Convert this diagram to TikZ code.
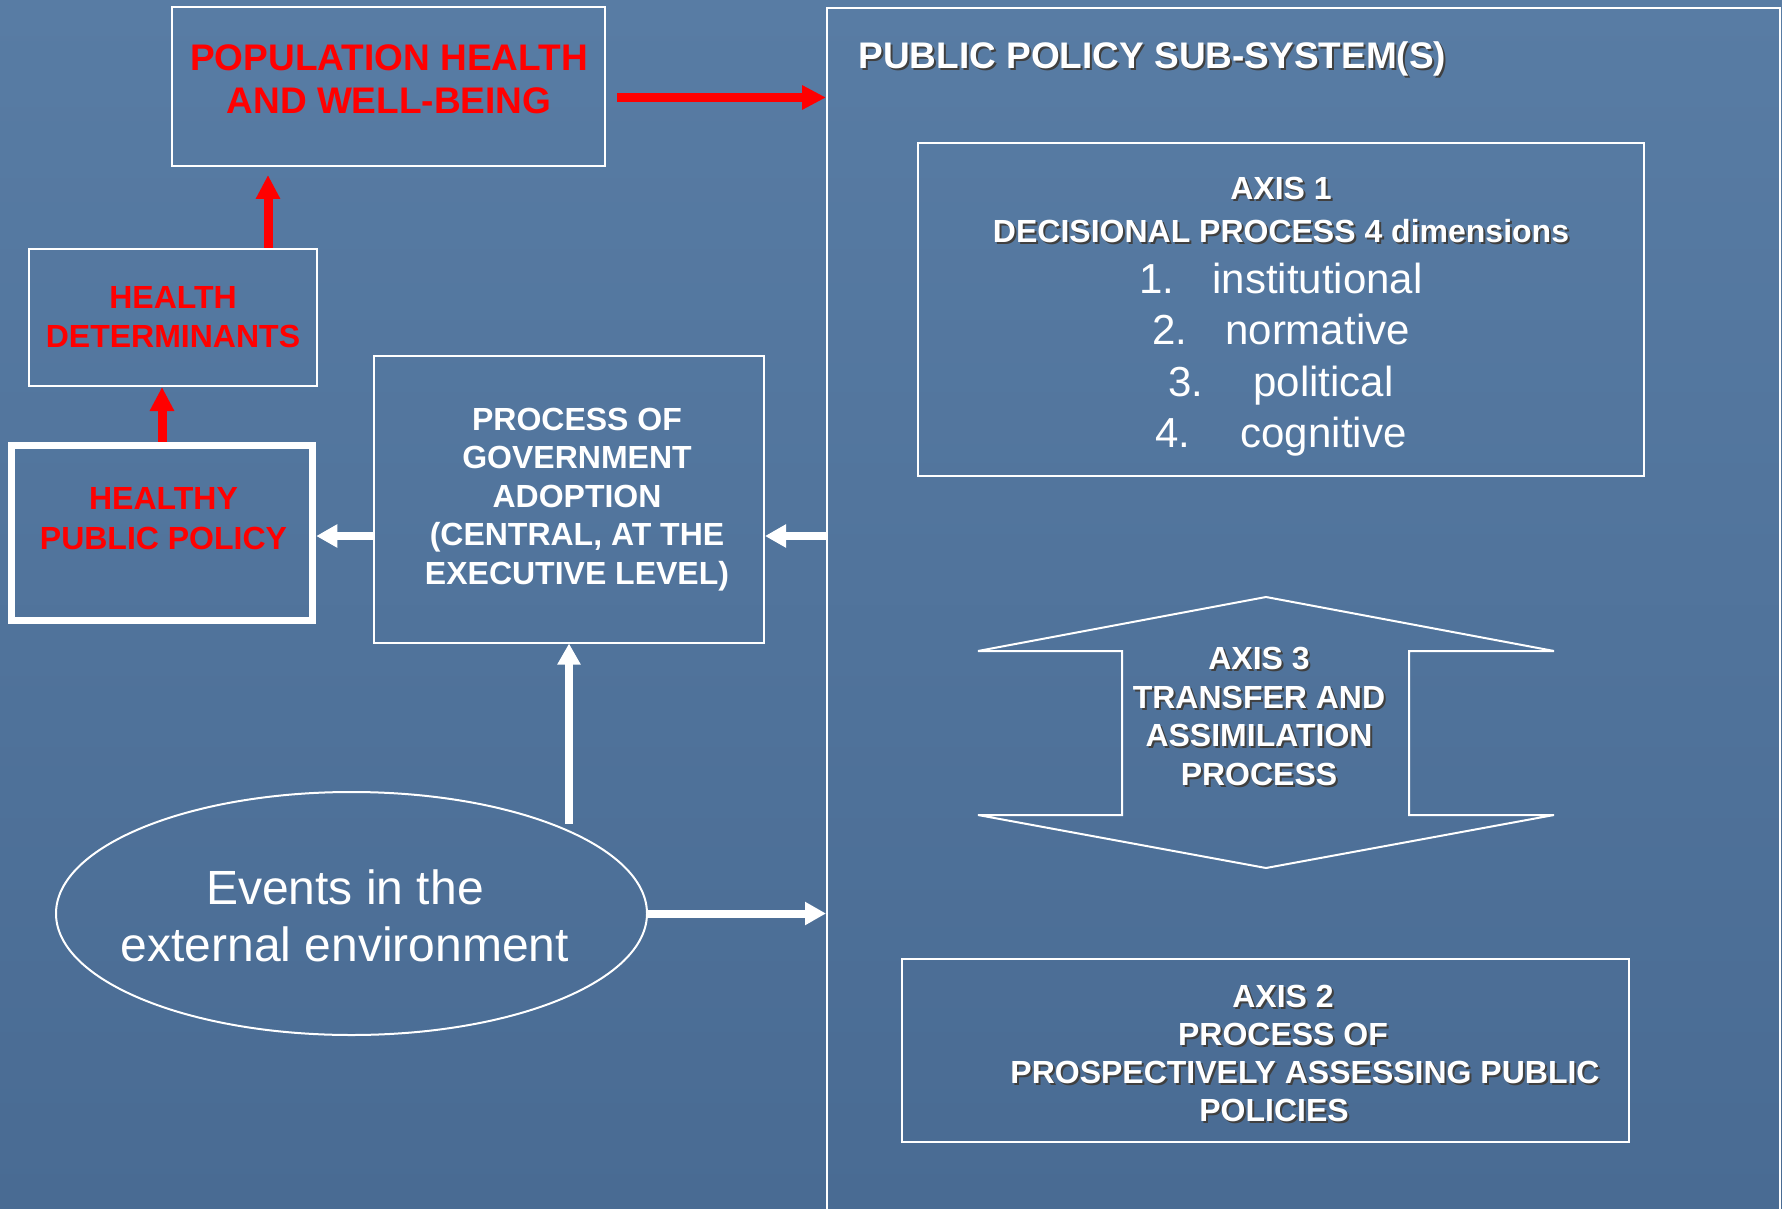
\documentclass[tikz,border=0pt]{standalone}
\usepackage{fontspec}
\setmainfont{Liberation Sans}
\usetikzlibrary{calc,shapes.geometric,arrows.meta}
\definecolor{bgtop}{RGB}{88,124,164}
\definecolor{bgbot}{RGB}{73,107,147}
\tikzset{
    box/.style={draw=white,line width=1pt,inner sep=0pt},
    redtxt/.style={text=red,align=center,inner sep=0pt,font=\bfseries\fontsize{16}{19.5}\selectfont},
    whitetxt/.style={text=white,align=center,inner sep=0pt,font=\bfseries\fontsize{16}{19.3}\selectfont},
    listtxt/.style={text=white,inner sep=0pt,font=\fontsize{21}{25}\selectfont},
    redarrow/.style={draw=red,line width=4.5pt,-{Triangle[length=12pt,width=11.5pt]}},
    whitearrow/.style={draw=white,line width=4pt,-{Triangle[length=10.5pt,width=11pt]}},
  }
% texte blanc avec ombre portee
\newcommand{\textombre}[4]{%
    \node[#1,text=black!75,xshift=1pt,yshift=-1pt] at (#3) {#4};
    \node[#1] (#2) at (#3) {#4};
  }
\begin{document}
\begin{tikzpicture}[x=0.5pt,y=-0.5pt]
			          %FOND
			          \useasboundingbox (0,0) rectangle (1782,1209);
			          \shade[top color=bgtop,bottom color=bgbot] (0,0) rectangle (1782,1209);
				   %SOUS-SYSTEME
				  \node[box,minimum width=476.5pt,minimum height=612pt,anchor=north west] (subsys) at (826,7) {};
				  \textombre{whitetxt,font=\bfseries\fontsize{18.5}{21.5}\selectfont,anchor=west}{title}{858,58.5}{PUBLIC POLICY SUB-SYSTEM(S)}
				  %AXE 1
				  \node[box,minimum width=363pt,minimum height=166.5pt] (ax1) at (1281,309.5) {};
				  \textombre{whitetxt,font=\bfseries\fontsize{16}{21.5}\selectfont}{ax1head}{1281,210}{AXIS 1\\DECISIONAL PROCESS 4 dimensions}
				  \foreach \i/\w/\g [count=\k from 0] in {1/institutional/19pt,2/normative/19pt,3/political/25pt,4/cognitive/25pt}
				    \node[listtxt,anchor=base] (dim\i) at (1281,{293+51.5*\k}) {\i.\hspace{\g}\w};
				  %AXE 3
				  \coordinate (wl) at (978,651);
				  \coordinate (top) at (1266,597);
				  \coordinate (wr) at (1554,651);
				  \coordinate (wr') at (1554,815);
				  \coordinate (bot) at (1266,868);
				  \coordinate (wl') at (978,815);
				  \draw[white,line width=1pt] (wl) -- (top) -- (wr) -- (1409,651) -- (1409,815) -- (wr') -- (bot) -- (wl') -- (1122,815) -- (1122,651) -- cycle;
				  \textombre{whitetxt}{ax3txt}{1259,716.5}{AXIS 3\\TRANSFER AND\\ASSIMILATION\\PROCESS}
				  %AXE 2
				  \node[box,minimum width=363.5pt,minimum height=91.5pt] (ax2) at (1265.5,1050.5) {};
				  \textombre{whitetxt,font=\bfseries\fontsize{16}{19}\selectfont}{ax2txt}{1283,1053}{AXIS 2\\PROCESS OF\\\hspace*{22pt}PROSPECTIVELY ASSESSING PUBLIC\\POLICIES\hspace*{9pt}}
				  %SANTE
				  \node[box,minimum width=216.5pt,minimum height=79.5pt] (pop) at (388.5,86.5) {};
				  \node[redtxt,font=\bfseries\fontsize{18.5}{21.5}\selectfont] (poptxt) at (389,79.5) {POPULATION HEALTH\\AND WELL-BEING};
				  \node[box,redtxt,minimum width=144pt,minimum height=68.5pt] (hd) at (173,317.5) {HEALTH\\DETERMINANTS};
				  \node[box,line width=3.5pt,minimum width=150.75pt,minimum height=87.75pt] (hpp) at (162,533) {};
				  \node[redtxt,font=\bfseries\fontsize{16}{20}\selectfont] (hpptxt) at (163.5,519) {HEALTHY\\PUBLIC POLICY};
				  %GOUVERNEMENT
				  \node[box,minimum width=195pt,minimum height=143.5pt] (gov) at (569,499) {};
				  \node[whitetxt] (govtxt) at (577,499.5) {PROCESS OF\\GOVERNMENT\\ADOPTION\\(CENTRAL, AT THE\\EXECUTIVE LEVEL)};
				  %EVENEMENTS
				  \node[ellipse,draw=white,line width=1pt,minimum width=295.5pt,minimum height=121.5pt] (env) at (351.5,913.5) {};
				  \node[text=white,align=center,inner sep=0pt,font=\fontsize{24}{28.5}\selectfont] (envtxt) at (345,916) {Events in the\\external environment};
				  %FLECHES
				  \coordinate (r1) at ([xshift=5.5pt,yshift=-5.5pt]pop.east);
				  \draw[redarrow] (r1) -- (r1 -| subsys.west);
				  \coordinate (r2) at ([xshift=47.5pt]hd.north);
				  \draw[redarrow] (r2) -- ([yshift=-4pt]r2 |- pop.south);
				  \draw[redarrow] (hpp.north) -- (hpp.north |- hd.south);
				  \coordinate (w1) at ([yshift=-18.5pt]gov.west);
				  \draw[whitearrow] (w1) -- (w1 -| hpp.east);
				  \draw[whitearrow] (w1 -| subsys.west) -- (w1 -| gov.east);
				  \draw[whitearrow] (env.24 -| gov.south) -- (gov.south);
				  \draw[whitearrow] (env.east) -- (env.east -| subsys.west);
				  \end{tikzpicture}
\end{document}
